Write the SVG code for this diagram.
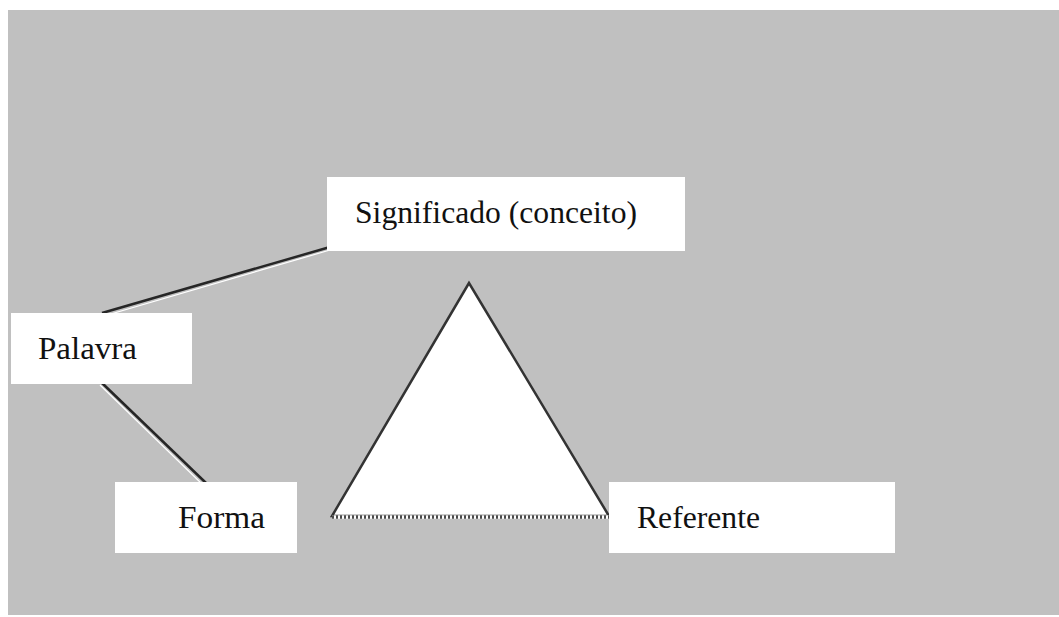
<svg xmlns="http://www.w3.org/2000/svg" width="1059" height="617" viewBox="0 0 1059 617">
<style>
.box{fill:#ffffff;stroke:none}
.lbl{font-family:"Liberation Serif","Times New Roman",serif;font-size:32px;fill:#111111}
.ln{stroke:#262626;stroke-width:2.5;fill:none}
.hl{stroke:#ffffff;stroke-width:1.2;fill:none}
</style>
<rect x="0" y="0" width="1059" height="617" fill="#ffffff"/>
<rect x="8" y="10" width="1051" height="605" fill="#c0c0c0"/>
<g id="connectors">
<line class="hl" x1="330" y1="250" x2="104" y2="316"/>
<line class="ln" x1="330" y1="247" x2="102" y2="313"/>
<line class="hl" x1="100" y1="385" x2="203" y2="485"/>
<line class="ln" x1="102" y1="383" x2="206" y2="483"/>
</g>
<g id="triangle">
<polygon points="469,283 332,516 609,516" fill="#ffffff" stroke="#333333" stroke-width="2.5"/>
<line x1="332" y1="517" x2="609" y2="517" stroke="#ffffff" stroke-width="3.5"/>
<line x1="332" y1="517" x2="609" y2="517" stroke="#4a4a4a" stroke-width="3.5" stroke-dasharray="2 2"/>
</g>
<g id="significado">
<rect class="box" x="327" y="177" width="358" height="74"/>
<text class="lbl" x="355" y="223" textLength="282" lengthAdjust="spacingAndGlyphs">Significado (conceito)</text>
</g>
<g id="palavra">
<rect class="box" x="11" y="313" width="181" height="71"/>
<text class="lbl" x="38" y="359" textLength="99" lengthAdjust="spacingAndGlyphs">Palavra</text>
</g>
<g id="forma">
<rect class="box" x="115" y="482" width="182" height="71"/>
<text class="lbl" x="178" y="528" textLength="87" lengthAdjust="spacingAndGlyphs">Forma</text>
</g>
<g id="referente">
<rect class="box" x="609" y="482" width="286" height="71"/>
<text class="lbl" x="637" y="528" textLength="123" lengthAdjust="spacingAndGlyphs">Referente</text>
</g>
</svg>
